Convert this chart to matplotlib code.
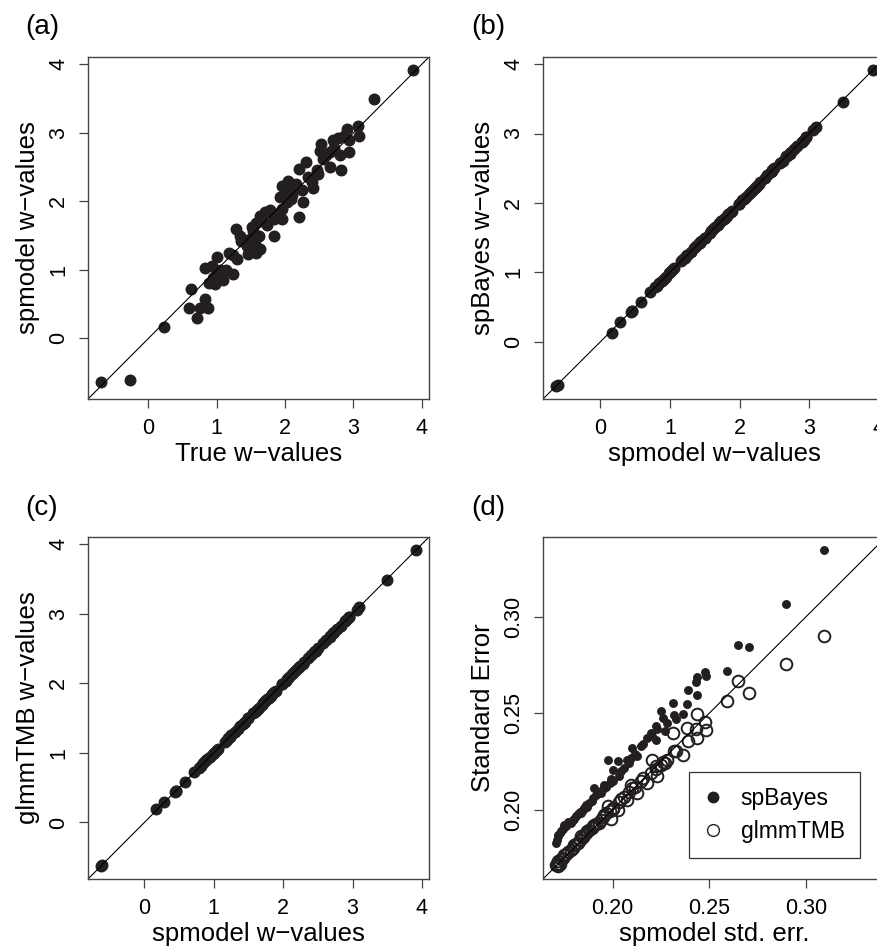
import matplotlib
matplotlib.use("Agg")
import matplotlib.pyplot as plt

plt.rcParams["font.family"] = ["Liberation Sans", "DejaVu Sans"]

# panel (a): true vs spmodel predicted w-values
true_w = [3.87, 3.30, 2.91, 3.06, 3.08, 2.77, 2.93, 2.70, 2.53, 2.51,
          2.65, 2.94, 2.80, 2.56, 2.65, 2.81, 2.31, 2.20, 2.46, 2.04,
          1.95, 2.12, 2.39, 2.41, 2.24, 2.00, 1.92, 2.26, 2.02, 1.96,
          2.20, 1.78, 1.63, 1.83, 1.96, 1.58, 1.73, 1.83, 1.28, 1.34,
          1.53, 1.61, 1.48, 1.56, 1.44, 1.63, 1.46, 1.58, 1.24, 1.29,
          1.00, 0.83, 0.93, 1.14, 1.24, 0.97, 1.09, 0.88, 0.97, 0.62,
          0.83, 0.60, 0.75, 0.87, 0.71, 0.23, -0.70, -0.27, 2.16, 2.33,
          2.10, 1.88, 1.52, 1.66, 1.40, 1.18, 1.05, 2.60, 2.72, 2.86,
          1.70, 2.08, 2.48, 1.36, 0.95]
spmodel_w = [3.92, 3.49, 3.06, 3.10, 2.95, 2.92, 2.89, 2.89, 2.83, 2.74,
             2.72, 2.72, 2.67, 2.62, 2.50, 2.46, 2.58, 2.47, 2.45, 2.30,
             2.22, 2.23, 2.28, 2.19, 2.16, 2.13, 2.06, 1.99, 1.99, 1.89,
             1.77, 1.87, 1.79, 1.74, 1.74, 1.69, 1.65, 1.50, 1.59, 1.50,
             1.57, 1.50, 1.45, 1.38, 1.35, 1.30, 1.23, 1.25, 1.21, 1.16,
             1.19, 1.03, 1.06, 0.99, 0.94, 0.91, 0.85, 0.81, 0.79, 0.72,
             0.58, 0.45, 0.45, 0.44, 0.29, 0.17, -0.63, -0.61, 2.25, 2.36,
             2.09, 1.82, 1.62, 1.71, 1.43, 1.25, 1.00, 2.68, 2.78, 2.95,
             1.84, 2.04, 2.40, 1.42, 0.88]

# panels (b) and (c): other software predictions vs spmodel
spbayes_w = [3.91, 3.45, 3.05, 3.09, 2.95, 2.91, 2.88, 2.88, 2.82, 2.74,
             2.71, 2.72, 2.67, 2.61, 2.50, 2.46, 2.57, 2.47, 2.45, 2.30,
             2.22, 2.23, 2.28, 2.19, 2.16, 2.13, 2.06, 1.99, 1.99, 1.89,
             1.77, 1.87, 1.79, 1.74, 1.74, 1.69, 1.65, 1.50, 1.59, 1.50,
             1.57, 1.50, 1.45, 1.38, 1.35, 1.30, 1.23, 1.25, 1.21, 1.16,
             1.19, 1.03, 1.06, 0.99, 0.94, 0.91, 0.85, 0.81, 0.79, 0.72,
             0.57, 0.44, 0.45, 0.43, 0.28, 0.13, -0.64, -0.62, 2.25, 2.36,
             2.09, 1.82, 1.62, 1.71, 1.43, 1.25, 1.00, 2.68, 2.78, 2.95,
             1.84, 2.04, 2.40, 1.42, 0.88]
glmmtmb_w = [3.92, 3.49, 3.06, 3.10, 2.95, 2.92, 2.89, 2.89, 2.83, 2.74,
             2.72, 2.72, 2.67, 2.62, 2.50, 2.46, 2.58, 2.47, 2.45, 2.30,
             2.22, 2.23, 2.28, 2.19, 2.16, 2.13, 2.06, 1.99, 1.99, 1.89,
             1.77, 1.87, 1.79, 1.74, 1.74, 1.69, 1.65, 1.50, 1.59, 1.50,
             1.57, 1.50, 1.45, 1.38, 1.35, 1.30, 1.23, 1.25, 1.21, 1.16,
             1.19, 1.03, 1.06, 0.99, 0.94, 0.91, 0.85, 0.81, 0.79, 0.72,
             0.58, 0.45, 0.45, 0.44, 0.29, 0.19, -0.63, -0.61, 2.25, 2.36,
             2.09, 1.82, 1.62, 1.71, 1.43, 1.25, 1.00, 2.68, 2.78, 2.95,
             1.84, 2.04, 2.40, 1.42, 0.88]

# panel (d): standard errors
spmodel_se = [0.1706, 0.1712, 0.1716, 0.1720, 0.1728, 0.1735, 0.1745, 0.1751, 0.1760, 0.1772,
              0.1785, 0.1793, 0.1802, 0.1810, 0.1820, 0.1830, 0.1837, 0.1845, 0.1854, 0.1862,
              0.1870, 0.1879, 0.1892, 0.1897, 0.1905, 0.1915, 0.1931, 0.1940, 0.1950, 0.1957,
              0.1965, 0.1974, 0.1985, 0.1991, 0.2000, 0.2000, 0.2026, 0.2034, 0.2045, 0.2060,
              0.2077, 0.2085, 0.2094, 0.2103, 0.2115, 0.2129, 0.2146, 0.2160, 0.2180, 0.2197,
              0.2206, 0.2223, 0.2223, 0.2232, 0.2249, 0.2263, 0.2269, 0.2280, 0.2314, 0.2318,
              0.2326, 0.2366, 0.2386, 0.2390, 0.2430, 0.2435, 0.2435, 0.2479, 0.2482, 0.2593,
              0.2649, 0.2704, 0.2895, 0.3094]
spbayes_se = [0.1828, 0.1845, 0.1871, 0.1862, 0.1880, 0.1888, 0.1900, 0.1922, 0.1915, 0.1935,
              0.1932, 0.1948, 0.1949, 0.1965, 0.1975, 0.1990, 0.1983, 0.2000, 0.2009, 0.2022,
              0.2015, 0.2035, 0.2045, 0.2061, 0.2113, 0.2078, 0.2090, 0.2087, 0.2105, 0.2130,
              0.2120, 0.2260, 0.2140, 0.2160, 0.2208, 0.2147, 0.2251, 0.2173, 0.2200, 0.2217,
              0.2260, 0.2240, 0.2270, 0.2321, 0.2290, 0.2277, 0.2329, 0.2340, 0.2372, 0.2398,
              0.2380, 0.2433, 0.2364, 0.2420, 0.2510, 0.2476, 0.2407, 0.2450, 0.2554, 0.2493,
              0.2470, 0.2494, 0.2550, 0.2623, 0.2661, 0.2687, 0.2597, 0.2713, 0.2692, 0.2720,
              0.2856, 0.2842, 0.3065, 0.3349]
glmmtmb_se = [0.1712, 0.1720, 0.1708, 0.1733, 0.1718, 0.1742, 0.1750, 0.1767, 0.1772, 0.1780,
              0.1793, 0.1800, 0.1815, 0.1822, 0.1828, 0.1845, 0.1862, 0.1858, 0.1870, 0.1880,
              0.1888, 0.1897, 0.1905, 0.1915, 0.1920, 0.1925, 0.1932, 0.1945, 0.1960, 0.1972,
              0.1985, 0.2018, 0.1992, 0.1949, 0.2005, 0.2010, 0.2000, 0.2040, 0.2055, 0.2065,
              0.2052, 0.2090, 0.2130, 0.2110, 0.2120, 0.2087, 0.2150, 0.2165, 0.2139, 0.2190,
              0.2260, 0.2210, 0.2225, 0.2173, 0.2230, 0.2245, 0.2243, 0.2260, 0.2398, 0.2303,
              0.2303, 0.2286, 0.2422, 0.2355, 0.2418, 0.2372, 0.2498, 0.2453, 0.2415, 0.2562,
              0.2666, 0.2606, 0.2758, 0.2903]

dot_col = "#231f20"
frame_col = "#444444"
W, H = 877, 949


def r_limits(*series):
    # R style: data range padded 4% on each side
    lo = min(min(s) for s in series)
    hi = max(max(s) for s in series)
    pad = 0.04 * (hi - lo)
    return lo - pad, hi + pad


def style_axes(ax, xlabel, ylabel):
    for sp in ax.spines.values():
        sp.set_color(frame_col)
        sp.set_linewidth(1.0)
    ax.tick_params(direction="out", length=6.5, width=0.9, color=frame_col,
                   labelsize=15.5, pad=7)
    ax.tick_params(axis="y", labelrotation=90)
    for lab in ax.get_yticklabels():
        lab.set_va("center")
    ax.set_xlabel(xlabel, fontsize=18.5, labelpad=2)
    ax.set_ylabel(ylabel, fontsize=18.5, labelpad=6)


def make_axes(left_px, top_px, w_px, h_px):
    return fig.add_axes([left_px / W, 1 - (top_px + h_px) / H, w_px / W, h_px / H])


fig = plt.figure(figsize=(W / 100, H / 100), dpi=100)

# (a)
ax = make_axes(88, 57, 341, 342)
ax.plot(true_w, spmodel_w, "o", color=dot_col, ms=7.6, mec=dot_col)
ax.axline((0, 0), slope=1, color="black", lw=0.8)
lim = r_limits(true_w, spmodel_w)
ax.set_xlim(lim)
ax.set_ylim(lim)
ax.set_xticks([0, 1, 2, 3, 4])
ax.set_yticks([0, 1, 2, 3, 4])
style_axes(ax, "True w\u2212values", "spmodel w\u2212values")

# (b)
ax = make_axes(543, 57, 343, 342)
ax.plot(spmodel_w, spbayes_w, "o", color=dot_col, ms=7.6, mec=dot_col)
ax.axline((0, 0), slope=1, color="black", lw=0.8)
lim = r_limits(spmodel_w, spbayes_w)
ax.set_xlim(lim)
ax.set_ylim(lim)
ax.set_xticks([0, 1, 2, 3, 4])
ax.set_yticks([0, 1, 2, 3, 4])
style_axes(ax, "spmodel w\u2212values", "spBayes w\u2212values")

# (c)
ax = make_axes(88, 537, 341, 342)
ax.plot(spmodel_w, glmmtmb_w, "o", color=dot_col, ms=7.6, mec=dot_col)
ax.axline((0, 0), slope=1, color="black", lw=0.8)
lim = r_limits(spmodel_w, glmmtmb_w)
ax.set_xlim(lim)
ax.set_ylim(lim)
ax.set_xticks([0, 1, 2, 3, 4])
ax.set_yticks([0, 1, 2, 3, 4])
style_axes(ax, "spmodel w\u2212values", "glmmTMB w\u2212values")

# (d)
ax = make_axes(543, 537, 343, 342)
ax.plot(spmodel_se, spbayes_se, "o", color=dot_col, ms=5.4, mec=dot_col,
        label="spBayes")
ax.plot(spmodel_se, glmmtmb_se, "o", mfc="none", mec=dot_col, ms=8.4, mew=1.4,
        label="glmmTMB")
ax.axline((0.2, 0.2), slope=1, color="black", lw=0.8)
lim = r_limits(spmodel_se, spbayes_se, glmmtmb_se)
ax.set_xlim(lim)
ax.set_ylim(lim)
ax.set_xticks([0.20, 0.25, 0.30])
ax.set_yticks([0.20, 0.25, 0.30])
ax.set_xticklabels(["0.20", "0.25", "0.30"])
ax.set_yticklabels(["0.20", "0.25", "0.30"])
style_axes(ax, "spmodel std. err.", "Standard Error")
leg = ax.legend(loc="lower left", bbox_to_anchor=((689 - 543) / 343, (879 - 858) / 342),
                fontsize=16.5, frameon=True, fancybox=False, handlelength=0.8,
                handletextpad=0.8, borderpad=0.65, labelspacing=0.45, borderaxespad=0)
leg.get_frame().set_edgecolor("black")
leg.get_frame().set_linewidth(0.9)
leg.legend_handles[0].set_markersize(7.5)
leg.legend_handles[1].set_markersize(8.5)
leg.legend_handles[1].set_markeredgewidth(1.0)

for label, x, y in [("(a)", 42, 27), ("(b)", 488, 27), ("(c)", 42, 508), ("(d)", 488, 508)]:
    fig.text(x / W, 1 - y / H, label, fontsize=20, ha="center", va="center")

fig.savefig("out.png", dpi=100)
